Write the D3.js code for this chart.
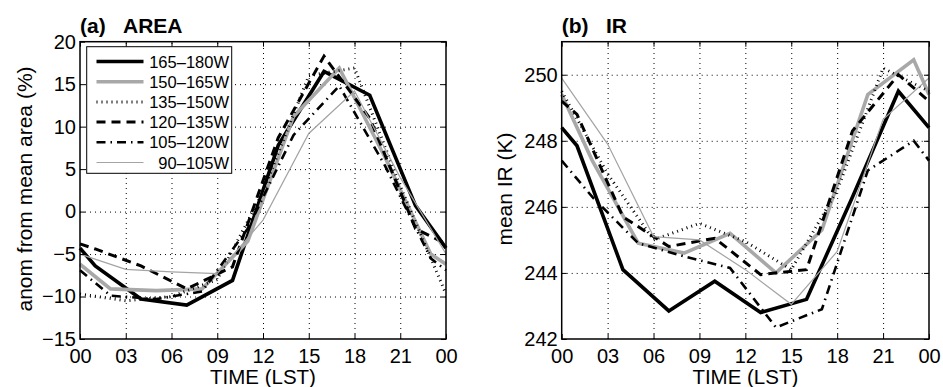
<!DOCTYPE html>
<html>
<head>
<meta charset="utf-8">
<script src="https://cdn.jsdelivr.net/npm/d3@7"></script>
<style>
  body { margin: 0; background: #fff; }
  svg { display: block; font-family: "Liberation Sans", Arial, Helvetica, sans-serif; }
</style>
</head>
<body>
<svg width="943" height="387"></svg>
<script>
// local hours of the 3-hourly samples (each band is shifted by 1 h of longitude)
var hoursA = [0, 1, 4, 7, 10, 13, 16, 19, 22, 24];
var hoursB = [0, 2, 5, 8, 11, 14, 17, 20, 23, 24];
var hoursC = [0, 3, 6, 9, 12, 15, 18, 21, 24];

var bands = ["165\u2013180W", "150\u2013165W", "135\u2013150W", "120\u2013135W", "105\u2013120W", "90\u2013105W"];

// (a) area anomaly, %
var area165 = [-4.3, -6.4, -10.3, -11.0, -8.1, 7.8, 16.5, 13.7, 0.7, -4.3];
var area150 = [-6.2, -9.1, -9.3, -9.1, -3.5, 11.2, 16.9, 6.4, -5.0, -6.2];
var area135 = [-9.7, -10.5, -10.0, -8.0, 2.3, 16.0, 16.9, 3.0, -9.7];
var area120 = [-3.8, -4.4, -6.4, -9.1, -6.5, 8.7, 18.3, 11.0, -2.0, -3.8];
var area105 = [-6.9, -9.9, -10.3, -9.4, -2.0, 9.0, 14.8, 5.4, -5.5, -6.9];
var area090 = [-5.0, -6.8, -7.1, -7.3, -1.0, 9.2, 14.2, 4.0, -5.0];

// (b) mean IR, K
var ir165 = [248.4, 247.85, 244.1, 242.85, 243.75, 242.8, 243.2, 246.3, 249.5, 248.4];
var ir150 = [249.4, 247.4, 244.9, 244.6, 245.2, 244.0, 245.3, 249.4, 250.45, 249.4];
var ir135 = [249.5, 247.0, 245.0, 245.5, 244.95, 244.1, 246.5, 250.2, 249.5];
var ir120 = [249.2, 248.8, 245.7, 244.8, 245.05, 243.95, 244.1, 248.3, 250.0, 249.2];
var ir105 = [247.4, 246.3, 244.9, 244.5, 244.15, 242.35, 242.9, 247.1, 248.0, 247.4];
var ir090 = [249.9, 247.9, 245.1, 245.0, 244.1, 243.05, 244.65, 248.65, 249.9];

var timeTicks = [0, 3, 6, 9, 12, 15, 18, 21, 24];
var timeLabels = ["00", "03", "06", "09", "12", "15", "18", "21", "00"];
var areaTicks = [-15, -10, -5, 0, 5, 10, 15, 20];
var irTicks = [242, 244, 246, 248, 250];

document.addEventListener("DOMContentLoaded", function () {

  var svg = d3.select("svg");
  var top = 41.7, bottom = 339;

  var styles = [
    { color: "#000", width: 3.6, dash: null },
    { color: "#a8a8a8", width: 3.6, dash: null },
    { color: "#000", width: 3, dash: "1,4" },
    { color: "#000", width: 3, dash: "9,6" },
    { color: "#000", width: 2.6, dash: "9,5,1.5,5" },
    { color: "#a4a4a4", width: 1.2, dash: null }
  ];

  var hours = [hoursA, hoursB, hoursC, hoursA, hoursB, hoursC];

  drawPanel({
    left: 80, right: 446,
    domain: [-15, 20], ticks: areaTicks,
    title: "(a)", name: "AREA", nameX: 123,
    ylabel: "anom from mean area (%)", ylabelX: 31.5,
    series: [area165, area150, area135, area120, area105, area090],
    legend: true
  });

  drawPanel({
    left: 561.7, right: 929,
    domain: [242, 251], ticks: irTicks,
    title: "(b)", name: "IR", nameX: 606,
    ylabel: "mean IR (K)", ylabelX: 511.5,
    series: [ir165, ir150, ir135, ir120, ir105, ir090],
    legend: false
  });

  function drawPanel(p) {
    var x = d3.scaleLinear().domain([0, 24]).range([p.left, p.right]);
    var y = d3.scaleLinear().domain(p.domain).range([bottom, top]);
    var g = svg.append("g");

    // dotted grid
    var grid = g.append("g").attr("class", "grid");
    grid.append("g").attr("transform", "translate(0," + bottom + ")")
      .call(d3.axisBottom(x).tickValues(timeTicks.slice(1, -1)).tickSize(-(bottom - top)).tickFormat(""));
    grid.append("g").attr("transform", "translate(" + p.left + ",0)")
      .call(d3.axisLeft(y).tickValues(p.ticks.filter(function (t) { return y(t) > top + 1 && y(t) < bottom - 1; }))
        .tickSize(-(p.right - p.left)).tickFormat(""));
    grid.selectAll(".domain").remove();
    grid.selectAll("line").attr("stroke", "#222").attr("stroke-width", 1).attr("stroke-dasharray", "1,4");

    // data
    var line = d3.line()
      .x(function (d) { return x(d[0]); })
      .y(function (d) { return y(d[1]); });

    p.series.forEach(function (vals, i) {
      var pts = vals.map(function (v, j) { return [hours[i][j], v]; });
      g.append("path")
        .attr("d", line(pts))
        .attr("fill", "none")
        .attr("stroke", styles[i].color)
        .attr("stroke-width", styles[i].width)
        .attr("stroke-dasharray", styles[i].dash)
        .attr("stroke-linejoin", "miter");
    });

    // axes with inward ticks
    var xAx = g.append("g").attr("transform", "translate(0," + bottom + ")")
      .call(d3.axisBottom(x).tickValues(timeTicks).tickSize(-5).tickPadding(10)
        .tickFormat(function (d, i) { return timeLabels[i]; }));
    var yAx = g.append("g").attr("transform", "translate(" + p.left + ",0)")
      .call(d3.axisLeft(y).tickValues(p.ticks).tickSize(-5).tickPadding(4)
        .tickFormat(function (d) { return d < 0 ? "\u2212" + Math.abs(d) : d; }));
    g.append("g").attr("transform", "translate(0," + top + ")")
      .call(d3.axisTop(x).tickValues(timeTicks).tickSize(-5).tickFormat(""));
    g.append("g").attr("transform", "translate(" + p.right + ",0)")
      .call(d3.axisRight(y).tickValues(p.ticks).tickSize(-5).tickFormat(""));
    g.selectAll(".domain").remove();
    g.selectAll(".tick line").filter(function () { return this.parentNode.parentNode.getAttribute("class") !== "grid"; })
      .attr("stroke", "#000").attr("stroke-width", 1);
    xAx.attr("font-size", null).attr("font-family", null);
    yAx.attr("font-size", null).attr("font-family", null);
    xAx.selectAll("text").attr("font-size", 20).attr("fill", "#000");
    yAx.selectAll("text").attr("font-size", 20).attr("fill", "#000");

    g.append("rect")
      .attr("x", p.left).attr("y", top)
      .attr("width", p.right - p.left).attr("height", bottom - top)
      .attr("fill", "none").attr("stroke", "#000").attr("stroke-width", 1.5);

    // titles and labels
    var t = g.append("text").attr("x", p.left).attr("y", 33)
      .attr("font-size", 21).attr("font-weight", "bold");
    t.append("tspan").text(p.title);
    t.append("tspan").attr("x", p.nameX).text(p.name);

    g.append("text")
      .attr("x", (p.left + p.right) / 2).attr("y", 384)
      .attr("text-anchor", "middle").attr("font-size", 20.5)
      .text("TIME (LST)");

    g.append("text")
      .attr("transform", "translate(" + p.ylabelX + "," + 189 + ") rotate(-90)")
      .attr("text-anchor", "middle").attr("font-size", 21)
      .text(p.ylabel);

    if (p.legend) drawLegend(g);
  }

  function drawLegend(g) {
    var lg = g.append("g");
    lg.append("rect")
      .attr("x", 86.7).attr("y", 46.7).attr("width", 145).attr("height", 126.6)
      .attr("fill", "#fff").attr("stroke", "#000").attr("stroke-width", 1);
    bands.forEach(function (b, i) {
      var cy = 61.5 + i * 20.2;
      lg.append("line")
        .attr("x1", 96.5).attr("x2", 143.5).attr("y1", cy).attr("y2", cy)
        .attr("stroke", styles[i].color)
        .attr("stroke-width", styles[i].width)
        .attr("stroke-dasharray", styles[i].dash);
      lg.append("text")
        .attr("x", 229).attr("y", cy + 6)
        .attr("text-anchor", "end").attr("font-size", 16.5)
        .text(b);
    });
  }

});
</script>
</body>
</html>
